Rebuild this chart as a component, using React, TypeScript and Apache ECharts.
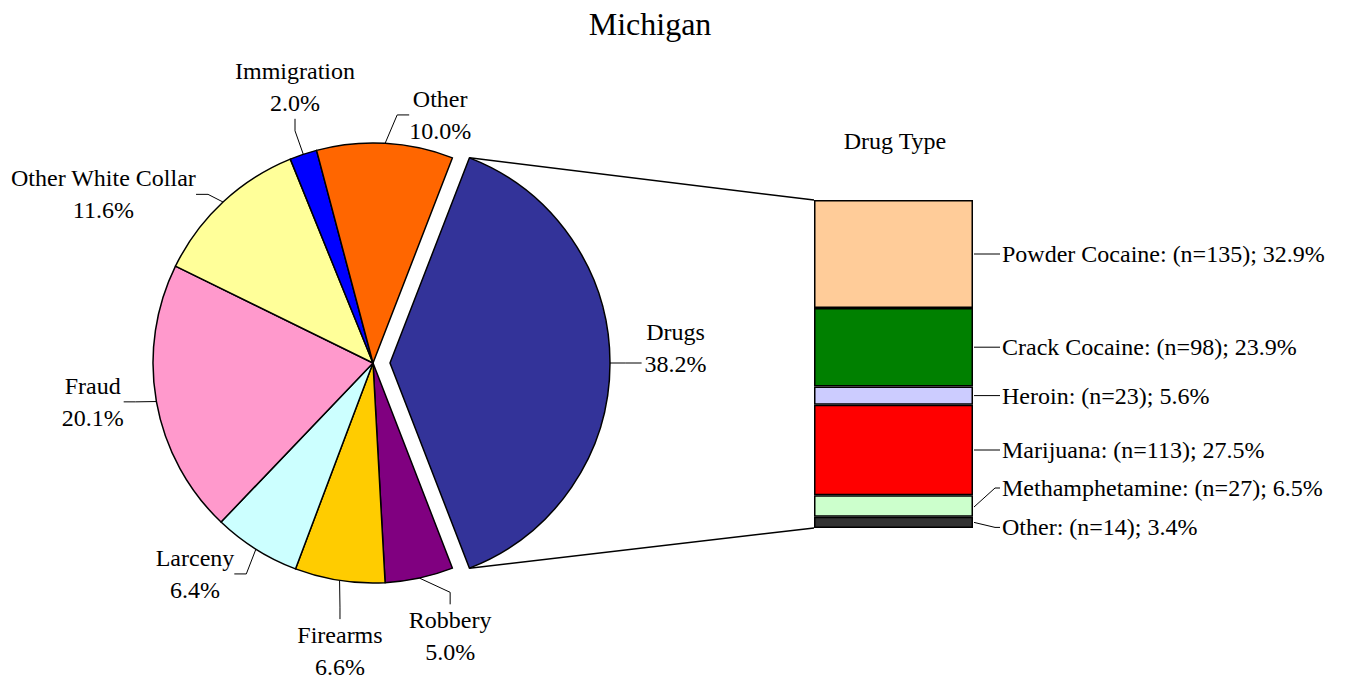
import React, { useEffect, useRef } from 'react';
import * as echarts from 'echarts';

// ---- data ----
const OFFENSES = ['Drugs', 'Robbery', 'Firearms', 'Larceny', 'Fraud', 'Other White Collar', 'Immigration', 'Other'];
const OFFENSE_PCT = [38.2, 5.0, 6.6, 6.4, 20.1, 11.6, 2.0, 10.0];
const OFFENSE_COLORS = ['#333399', '#800080', '#FFCC00', '#CCFFFF', '#FF99CC', '#FFFF99', '#0000FF', '#FF6600'];

const DRUGS = ['Powder Cocaine', 'Crack Cocaine', 'Heroin', 'Marijuana', 'Methamphetamine', 'Other'];
const DRUG_N = [135, 98, 23, 113, 27, 14];
const DRUG_PCT = [32.9, 23.9, 5.6, 27.5, 6.5, 3.4];
const DRUG_COLORS = ['#FFCC99', '#008000', '#CCCCFF', '#FF0000', '#CCFFCC', '#333333'];

const TITLE = 'Michigan';
const BAR_TITLE = 'Drug Type';

// ---- layout ----
const FONT = '"Liberation Serif", "Times New Roman", Times, serif';
const PIE_C = [373, 363];
const PIE_R = 220;
const EXPLODE = 17;
const GRID = { left: 814, top: 200, width: 159, height: 328 };
// label placement: [distance from centre, angle adjustment in degrees]
const LABEL_POLAR = [[286, 3.0], [284, 3.6], [290, 2.2], [276, -8], [283, -2.2], [318, 15], [287, -2.7], [257, -12]];
const BAR_LABEL_DY = [0, 0, 0, 0, -18, 5];
const BAR_LINE_START_DY = [0, 0, 0, 0, 1, 0];
const BAR_LABEL_GAP = 29;

export default function App() {
  const ref = useRef<HTMLDivElement>(null);

  useEffect(() => {
    if (!ref.current) return;
    const chart = echarts.init(ref.current, null, { renderer: 'svg' });

    const total = OFFENSE_PCT.reduce((a, b) => a + b, 0);
    const startAngle = (360 * OFFENSE_PCT[0]) / total / 2;
    const midAngles: number[] = [];
    let cum = 0;
    OFFENSE_PCT.forEach((v) => {
      midAngles.push(startAngle - (360 * (cum + v / 2)) / total);
      cum += v;
    });

    const pieSeries = (exploded: boolean) => {
      const cx = exploded ? PIE_C[0] + EXPLODE : PIE_C[0];
      const cy = PIE_C[1];
      return {
        type: 'pie',
        center: [cx, cy],
        radius: PIE_R,
        startAngle,
        clockwise: true,
        avoidLabelOverlap: false,
        silent: true,
        minShowLabelAngle: 0,
        emphasis: { disabled: true },
        label: {
          show: true,
          position: 'outside',
          fontFamily: FONT,
          fontSize: 24,
          lineHeight: 32,
          color: '#000',
          align: 'center',
          formatter: (p: any) => `${p.name}\n${Number(p.value).toFixed(1)}%`,
        },
        labelLine: {
          show: true,
          length: 10,
          length2: 12,
          lineStyle: { color: '#000', width: 1 },
        },
        labelLayout: (p: any) => {
          const i = p.dataIndex;
          const [R, da] = LABEL_POLAR[i];
          const a = ((midAngles[i] + da) * Math.PI) / 180;
          const x = cx + R * Math.cos(a);
          const y = cy - R * Math.sin(a);
          const res: any = { x, y, align: 'center', verticalAlign: 'middle' };
          if (i === 0) {
            // leader to the second text line, as in the original
            const am = (midAngles[0] * Math.PI) / 180;
            const px = cx + PIE_R * Math.cos(am);
            const py = cy - PIE_R * Math.sin(am);
            const left = x - p.labelRect.width / 2 - 3;
            res.labelLinePoints = [[px, py], [(px + left) / 2, py], [left, py]];
          }
          return res;
        },
        data: OFFENSES.map((name, i) => {
          const visible = (i === 0) === exploded;
          return {
            name,
            value: OFFENSE_PCT[i],
            itemStyle: visible
              ? { color: OFFENSE_COLORS[i], borderColor: '#000', borderWidth: 1.5 }
              : { color: 'rgba(0,0,0,0)', borderWidth: 0 },
            label: { show: visible },
            labelLine: { show: visible },
          };
        }),
      };
    };

    const nTotal = DRUG_N.reduce((a, b) => a + b, 0);
    const barSeries = DRUGS.map((name, i) => ({
      type: 'bar',
      name,
      stack: 'drugs',
      barWidth: '100%',
      silent: true,
      emphasis: { disabled: true },
      data: [DRUG_N[i]],
      itemStyle: { color: DRUG_COLORS[i], borderColor: '#000', borderWidth: 1.5 },
      label: {
        show: true,
        position: 'right',
        distance: BAR_LABEL_GAP,
        fontFamily: FONT,
        fontSize: 24,
        color: '#000',
        formatter: `${name}: (n=${DRUG_N[i]}); ${DRUG_PCT[i].toFixed(1)}%`,
      },
      labelLayout: BAR_LABEL_DY[i] ? { dy: BAR_LABEL_DY[i] } : undefined,
    }));

    chart.setOption({
      animation: false,
      backgroundColor: '#fff',
      grid: { left: GRID.left, top: GRID.top, width: GRID.width, height: GRID.height },
      xAxis: { type: 'category', data: ['Drugs'], show: false },
      yAxis: { type: 'value', min: 0, max: nTotal, inverse: true, show: false },
      series: [pieSeries(false), pieSeries(true), ...barSeries],
    });

    // connector lines from the exploded slice to the bar
    const a0 = (startAngle * Math.PI) / 180;
    const ex = PIE_C[0] + EXPLODE + PIE_R * Math.cos(a0);
    const eyTop = PIE_C[1] - PIE_R * Math.sin(a0);
    const eyBot = PIE_C[1] + PIE_R * Math.sin(a0);
    const barTop = chart.convertToPixel({ gridIndex: 0 }, [0, 0]) as number[];
    const barBot = chart.convertToPixel({ gridIndex: 0 }, [0, nTotal]) as number[];
    const barLeft = GRID.left;
    const barRight = GRID.left + GRID.width;

    // leader lines for the bar labels
    const leaders: any[] = [];
    let c = 0;
    DRUG_N.forEach((n, i) => {
      const mid = (chart.convertToPixel({ gridIndex: 0 }, [0, c + n / 2]) as number[])[1];
      c += n;
      const ly = mid + BAR_LABEL_DY[i];
      const sy = mid + BAR_LINE_START_DY[i];
      leaders.push({
        type: 'polyline',
        silent: true,
        shape: {
          points: [
            [barRight + 1, sy],
            [barRight + BAR_LABEL_GAP - 7, ly],
            [barRight + BAR_LABEL_GAP - 2, ly],
          ],
        },
        style: { stroke: '#000', lineWidth: 1, fill: null },
      });
    });

    chart.setOption({
      graphic: [
        {
          type: 'text',
          x: 650,
          y: 24,
          style: { text: TITLE, fontFamily: FONT, fontSize: 32, fill: '#000', align: 'center', verticalAlign: 'middle' },
        },
        {
          type: 'text',
          x: 895,
          y: 141,
          style: { text: BAR_TITLE, fontFamily: FONT, fontSize: 24, fill: '#000', align: 'center', verticalAlign: 'middle' },
        },
        {
          type: 'line',
          silent: true,
          shape: { x1: ex, y1: eyTop, x2: barLeft, y2: barTop[1] },
          style: { stroke: '#000', lineWidth: 1.5 },
        },
        {
          type: 'line',
          silent: true,
          shape: { x1: ex, y1: eyBot, x2: barLeft, y2: barBot[1] },
          style: { stroke: '#000', lineWidth: 1.5 },
        },
        ...leaders,
      ],
    });

    return () => chart.dispose();
  }, []);

  return (
    <div
      ref={ref}
      style={{ position: 'absolute', left: 0, top: 0, width: 1348, height: 679, background: '#fff' }}
    />
  );
}
